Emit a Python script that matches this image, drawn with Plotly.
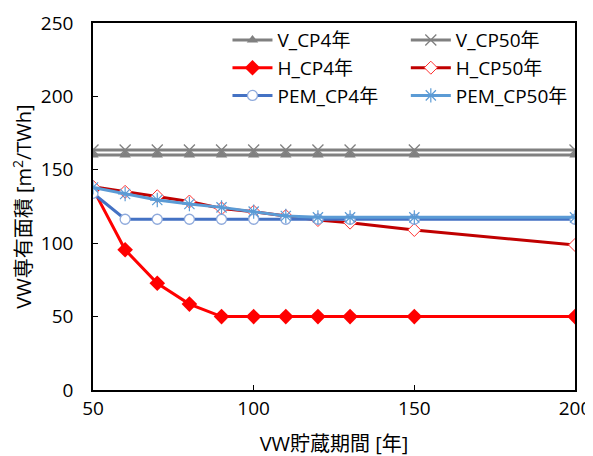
import plotly.graph_objects as go

years = [50, 60, 70, 80, 90, 100, 110, 120, 130, 150, 200]
v_cp4 = [160, 160, 160, 160, 160, 160, 160, 160, 160, 160, 160]
v_cp50 = [163.5, 163.5, 163.5, 163.5, 163.5, 163.5, 163.5, 163.5, 163.5, 163.5, 163.5]
h_cp4 = [137, 95.5, 72.7, 58.5, 50, 50, 50, 50, 50, 50, 50]
h_cp50 = [138.5, 135, 132, 128.4, 123.7, 121.5, 118.5, 115.8, 114, 109, 98.8]
pem_cp4 = [134, 116.3, 116.3, 116.3, 116.3, 116.3, 116.3, 116.3, 116.3, 116.3, 116.3]
pem_cp50 = [138, 133.5, 129.4, 126.7, 124.4, 121.5, 118.5, 117.6, 117.6, 117.6, 117.6]

FONT = "Open Sans, Noto Sans CJK JP"

fig = go.Figure()
fig.add_trace(go.Scatter(x=years, y=v_cp4, name="V_CP4年", mode="lines+markers",
                         legend="legend",
                         line=dict(color="#808080", width=3),
                         marker=dict(symbol="triangle-up", size=10, color="#808080")))
fig.add_trace(go.Scatter(x=years, y=v_cp50, name="V_CP50年", mode="lines+markers",
                         legend="legend2",
                         line=dict(color="#808080", width=3),
                         marker=dict(symbol="x-thin-open", size=11,
                                     line=dict(color="#9a9a9a", width=1.3))))
fig.add_trace(go.Scatter(x=years, y=h_cp4, name="H_CP4年", mode="lines+markers",
                         legend="legend",
                         line=dict(color="#FF0000", width=3),
                         marker=dict(symbol="diamond", size=12, color="#FF0000")))
fig.add_trace(go.Scatter(x=years, y=h_cp50, name="H_CP50年", mode="lines+markers",
                         legend="legend2",
                         line=dict(color="#C00000", width=3),
                         marker=dict(symbol="diamond", size=10, color="white",
                                     line=dict(color="#FF3030", width=1))))
fig.add_trace(go.Scatter(x=years, y=pem_cp4, name="PEM_CP4年", mode="lines+markers",
                         legend="legend",
                         line=dict(color="#4472C4", width=3),
                         marker=dict(symbol="circle", size=10, color="white",
                                     line=dict(color="#8FAADC", width=1.3))))
fig.add_trace(go.Scatter(x=years, y=pem_cp50, name="PEM_CP50年", mode="lines+markers",
                         legend="legend2",
                         line=dict(color="#5B9BD5", width=3),
                         marker=dict(symbol="asterisk-open", size=12,
                                     line=dict(color="#5B9BD5", width=1.2))))

legend_common = dict(orientation="v", xref="paper", yref="paper",
                     xanchor="left", yanchor="middle",
                     bgcolor="rgba(0,0,0,0)",
                     font=dict(family=FONT, size=19), itemwidth=40,
                     traceorder="normal")

# page body has an 8px default margin, so the margins are offset by 8px
fig.update_layout(
    width=593, height=456,
    margin=dict(l=85, r=26, t=15, b=74),
    paper_bgcolor="white", plot_bgcolor="white",
    font=dict(family=FONT, size=19, color="#000000"),
    showlegend=True,
    legend=dict(x=0.279, y=0.877, **legend_common),
    legend2=dict(x=0.649, y=0.877, **legend_common),
    xaxis=dict(range=[50, 200], tickvals=[50, 100, 150, 200],
               showline=True, linecolor="black", linewidth=1.5, mirror=True,
               ticks="inside", ticklen=5, tickcolor="black", showgrid=False,
               zeroline=False, ticklabelstandoff=0, automargin=False,
               title=dict(text="VW貯蔵期間 [年]", font=dict(size=20), standoff=17)),
    yaxis=dict(range=[0, 250], tickvals=[0, 50, 100, 150, 200, 250],
               showline=True, linecolor="black", linewidth=1.5, mirror=True,
               ticks="inside", ticklen=5, tickcolor="black", showgrid=False,
               zeroline=False, ticklabelstandoff=14, automargin=False,
               title=dict(text="VW専有面積 [m<sup>2</sup>/TWh]", font=dict(size=20), standoff=4)),
)

fig.write_html("out.html")
